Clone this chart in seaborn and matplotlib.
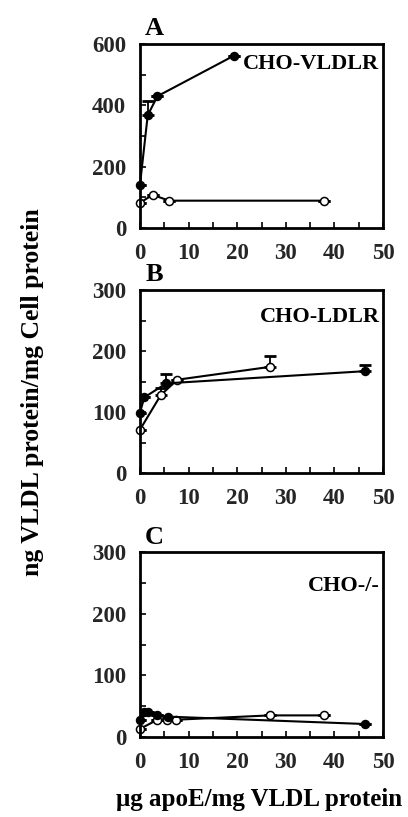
import matplotlib
matplotlib.use("Agg")
import matplotlib.pyplot as plt
import seaborn as sns
import pandas as pd

sns.set_theme(style="white")
plt.rcParams['font.family'] = ['Liberation Serif', 'DejaVu Serif']
plt.rcParams['font.weight'] = 'bold'

# Panel A: CHO-VLDLR
a_filled_x = [0, 1.6, 3.6, 19.3]
a_filled_y = [140, 368, 430, 562]
a_filled_err = [0, 45, 0, 0]
a_open_x = [0, 2.6, 6.0, 37.8]
a_open_y = [82, 108, 89, 89]
a_open_err = [0, 0, 0, 0]

# Panel B: CHO-LDLR
b_filled_x = [0, 0.9, 5.4, 46.3]
b_filled_y = [99, 124, 147, 167]
b_filled_err = [0, 0, 15, 10]
b_open_x = [0, 4.3, 7.7, 26.7]
b_open_y = [71, 128, 153, 174]
b_open_err = [0, 11, 0, 18]

# Panel C: CHO-/-
c_filled_x = [0, 0.9, 1.6, 3.6, 5.7, 46.3]
c_filled_y = [28, 40, 40, 36, 33, 21]
c_filled_err = [0, 0, 0, 0, 0, 0]
c_open_x = [0, 3.6, 5.5, 7.5, 26.7, 37.8]
c_open_y = [13, 28, 28, 28, 35, 35]
c_open_err = [0, 0, 0, 0, 0, 0]

x_ticks = [0, 10, 20, 30, 40, 50]
panels = [
    dict(letter="A", name="CHO-VLDLR", yticks=[0, 200, 400, 600], ymax=600, yminor=100,
         fx=a_filled_x, fy=a_filled_y, fe=a_filled_err, ox=a_open_x, oy=a_open_y, oe=a_open_err,
         pos=[0.343, 0.721, 0.596, 0.225], label_y=0.89),
    dict(letter="B", name="CHO-LDLR", yticks=[0, 100, 200, 300], ymax=300, yminor=50,
         fx=b_filled_x, fy=b_filled_y, fe=b_filled_err, ox=b_open_x, oy=b_open_y, oe=b_open_err,
         pos=[0.343, 0.421, 0.596, 0.224], label_y=0.855),
    dict(letter="C", name="CHO-/-", yticks=[0, 100, 200, 300], ymax=300, yminor=50,
         fx=c_filled_x, fy=c_filled_y, fe=c_filled_err, ox=c_open_x, oy=c_open_y, oe=c_open_err,
         pos=[0.343, 0.098, 0.596, 0.226], label_y=0.82),
]

fig = plt.figure(figsize=(4.08, 8.17), dpi=100)

for p in panels:
    ax = fig.add_axes(p["pos"])
    dfo = pd.DataFrame({"x": p["ox"], "y": p["oy"]})
    dff = pd.DataFrame({"x": p["fx"], "y": p["fy"]})
    # error bars (upper only)
    for xs, ys, es in ((p["ox"], p["oy"], p["oe"]), (p["fx"], p["fy"], p["fe"])):
        ax.errorbar(xs, ys, yerr=[[0]*len(es), es], fmt="none",
                    ecolor="black", elinewidth=1.3, capsize=4, capthick=2, zorder=1)
    sns.lineplot(data=dfo, x="x", y="y", ax=ax, sort=False, color="black", linewidth=1.5,
                 marker="o", markersize=5.8, markerfacecolor="white", markeredgecolor="black",
                 markeredgewidth=1.1, zorder=2, clip_on=False)
    sns.lineplot(data=dff, x="x", y="y", ax=ax, sort=False, color="black", linewidth=1.5,
                 marker="o", markersize=5.8, markerfacecolor="black", markeredgecolor="black",
                 markeredgewidth=1.0, zorder=3, clip_on=False)
    ax.set_xlim(0, 50)
    ax.set_ylim(0, p["ymax"])
    ax.set_xticks(x_ticks)
    ax.set_xticks(list(range(0, 51, 5)), minor=True)
    ax.set_yticks(p["yticks"])
    ax.set_yticks(list(range(0, p["ymax"] + 1, p["yminor"])), minor=True)
    ax.set_xticklabels([str(t) for t in x_ticks], fontsize=16.5, fontweight="bold")
    ax.set_yticklabels([str(t) for t in p["yticks"]], fontsize=16.5, fontweight="bold")
    ax.tick_params(axis="both", which="both", direction="in", length=4, width=1.2,
                   color="black", bottom=True, left=True, top=False, right=False)
    ax.tick_params(axis="x", which="major", pad=11)
    ax.tick_params(axis="y", which="major", pad=10)
    ax.set_xlabel("")
    ax.set_ylabel("")
    for s in ax.spines.values():
        s.set_visible(True)
        s.set_color("black")
        s.set_linewidth(2)
        s.set_zorder(5)
    ax.text(0.985, p["label_y"], p["name"], transform=ax.transAxes, ha="right", va="center",
            fontsize=16, fontweight="bold", color="black")
    ax.text(0.06, 1.02, p["letter"], transform=ax.transAxes, ha="center", va="bottom",
            fontsize=19, fontweight="bold", color="black")

fig.text(0.08, 0.52, "ng VLDL protein/mg Cell protein", rotation=90, ha="center", va="center",
         fontsize=18.5, fontweight="bold", color="black")
fig.text(0.635, 0.021, "μg apoE/mg VLDL protein", ha="center", va="center",
         fontsize=18, fontweight="bold", color="black")

fig.savefig("out.png", dpi=100, facecolor="white")
